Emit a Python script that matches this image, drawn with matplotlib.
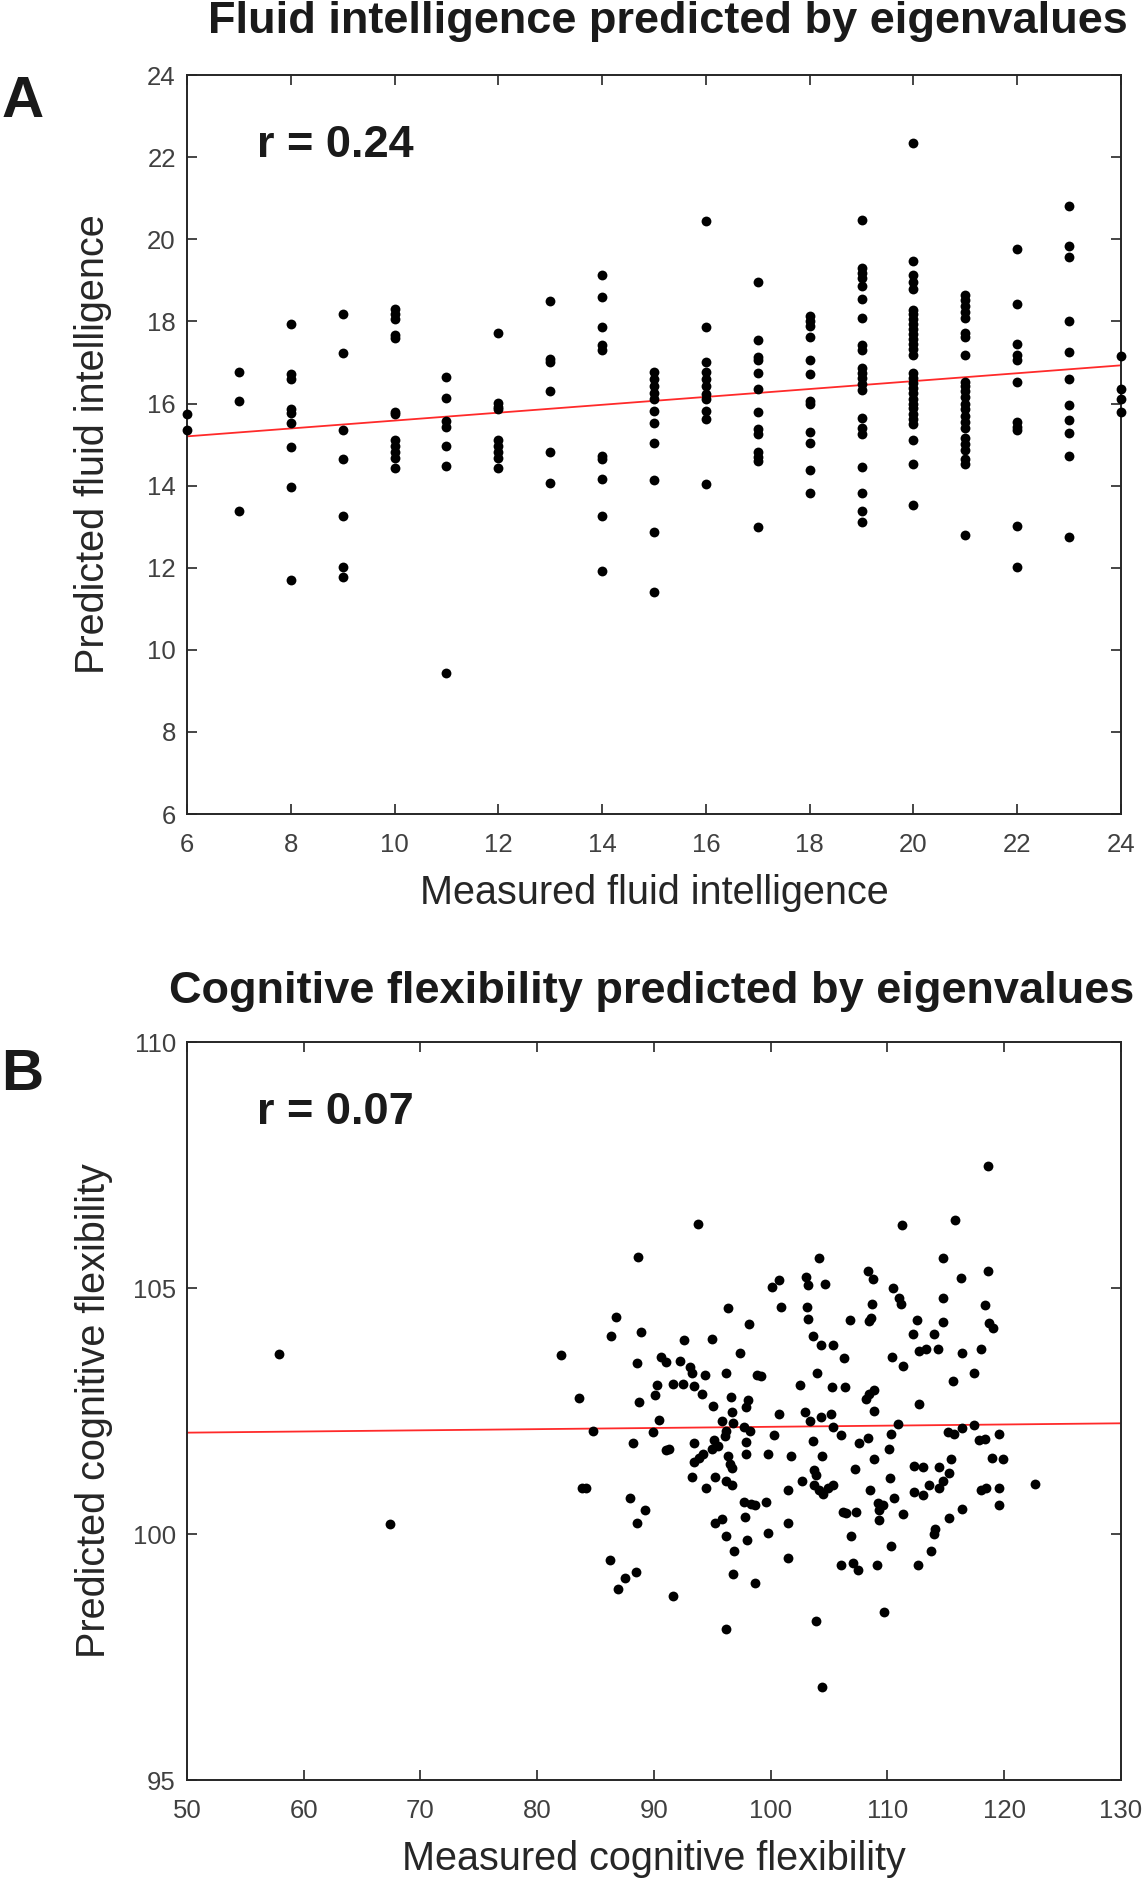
import numpy as np
import matplotlib
matplotlib.use('Agg')
import matplotlib.pyplot as plt

plt.rcParams['font.family'] = ['Liberation Sans', 'DejaVu Sans']

# ---- panel A : fluid intelligence (measured level -> predicted values)
fi_levels = [6, 7, 8, 9, 10, 11, 12, 13, 14, 15, 16, 17, 18, 19, 20, 21, 22, 23, 24]
fi_pred = [
    [15.74, 15.35],
    [16.77, 16.07, 13.39],
    [17.93, 16.71, 16.59, 15.86, 15.76, 15.53, 14.93, 13.97, 11.69],
    [18.17, 17.23, 15.35, 14.64, 13.25, 12.03, 11.77],
    [18.30, 18.17, 18.05, 17.66, 17.60, 15.80, 15.74, 15.11, 14.96, 14.81, 14.67, 14.43],
    [16.64, 16.13, 15.58, 15.44, 14.96, 14.48, 9.44],
    [17.71, 16.02, 15.92, 15.86, 15.11, 14.96, 14.81, 14.67, 14.43],
    [18.50, 17.09, 17.02, 16.30, 14.81, 14.07],
    [19.14, 18.59, 17.86, 17.42, 17.30, 14.73, 14.64, 14.16, 13.27, 11.92],
    [16.77, 16.59, 16.42, 16.26, 16.10, 15.82, 15.53, 15.04, 14.13, 12.86, 11.41],
    [20.44, 17.86, 17.01, 16.77, 16.59, 16.42, 16.24, 16.12, 15.82, 15.62, 14.03],
    [18.95, 17.54, 17.13, 17.07, 16.74, 16.36, 15.80, 15.38, 15.26, 14.81, 14.70, 14.60, 13.00],
    [18.14, 18.02, 17.90, 17.63, 17.07, 16.71, 16.06, 16.00, 15.31, 15.05, 14.37, 13.83],
    [20.48, 19.29, 19.17, 19.05, 18.87, 18.55, 18.08, 17.42, 17.30, 16.87, 16.75, 16.63,
     16.47, 16.33, 15.64, 15.41, 15.26, 14.46, 13.83, 13.39, 13.12],
    [22.35, 19.46, 19.14, 18.97, 18.79, 18.29, 18.17, 18.05, 17.93, 17.81, 17.70, 17.58,
     17.46, 17.34, 17.19, 16.74, 16.62, 16.50, 16.38, 16.26, 16.12, 16.00, 15.88, 15.74,
     15.62, 15.50, 15.11, 14.52, 13.54],
    [18.65, 18.51, 18.37, 18.22, 18.08, 17.72, 17.63, 17.19, 16.53, 16.42, 16.30, 16.15,
     16.00, 15.86, 15.70, 15.56, 15.41, 15.17, 15.02, 14.87, 14.66, 14.52, 12.80],
    [19.76, 18.42, 17.45, 17.19, 17.07, 16.52, 15.55, 15.43, 15.35, 13.01, 12.03],
    [20.82, 19.83, 19.56, 18.02, 17.25, 16.59, 15.96, 15.61, 15.29, 14.72, 12.74],
    [17.15, 16.36, 16.12, 15.79],
]
fi_fit_x = [6, 24]
fi_fit_y = [15.20, 16.93]

# ---- panel B : cognitive flexibility
cf_measured = [
    57.85, 67.35,
    93.76, 88.62, 104.17, 100.12, 100.69, 103.03, 103.20, 104.69, 96.38, 100.89, 103.09, 103.17,
    86.76, 86.28, 88.85, 98.18, 92.61, 94.98, 103.60, 104.32, 82.00, 88.53, 90.62, 90.99,
    92.19, 93.10, 93.27, 94.36, 96.18, 97.41, 98.81, 99.18, 103.94, 102.55, 90.25, 90.05,
    91.62, 92.47, 93.39, 94.13, 96.61, 98.04, 97.89, 83.57, 88.70, 95.04, 96.70, 100.75,
    102.97, 103.37, 104.32, 90.42, 95.84, 96.18, 96.75, 84.77, 89.90, 97.75, 98.24, 100.32,
    88.19, 95.18, 95.47, 96.10, 94.98, 93.39, 97.89, 90.99, 91.33, 96.32, 97.89, 99.75,
    101.75, 103.66, 104.40, 93.39, 93.84, 94.18, 96.47, 96.67, 103.74, 103.89, 83.85, 84.20,
    93.27, 95.24, 96.18, 96.70, 94.47, 101.46, 102.66, 103.74, 104.17, 104.46, 104.89, 87.91,
    89.22, 88.56, 97.75, 98.32, 98.69, 99.61, 95.24, 95.84, 97.84, 101.46, 96.18, 97.95,
    99.78, 96.84, 101.46, 86.25, 88.48, 87.56, 86.96, 96.75, 98.64, 91.62, 96.18, 103.89,
    104.40,
    118.59, 115.82, 111.22, 114.79, 108.34, 108.74, 116.30, 118.59, 110.45, 111.02, 111.17,
    114.79, 108.68, 118.39, 106.80, 108.40, 108.60, 112.51, 114.73, 112.16, 113.96, 118.67,
    119.01, 105.37, 112.74, 113.31, 114.36, 106.29, 110.40, 116.39, 118.02, 111.37, 117.39,
    115.65, 105.26, 106.40, 108.17, 108.45, 108.88, 108.88, 112.68, 105.17, 110.88, 105.37,
    106.03, 110.31, 115.16, 115.73, 116.39, 117.39, 117.87, 118.39, 119.59, 107.60, 108.31,
    110.11, 108.83, 107.23, 115.45, 118.93, 119.87, 112.31, 113.02, 114.45, 115.30, 110.22,
    105.32, 113.53, 114.45, 114.73, 122.64, 108.54, 112.31, 113.02, 118.02, 118.44, 119.59,
    109.17, 109.60, 109.31, 109.31, 110.60, 106.17, 106.46, 107.31, 111.37, 115.25, 116.39,
    119.59, 114.11, 113.96, 106.89, 110.31, 113.73, 106.03, 107.08, 107.46, 109.11, 112.65,
    109.74,
]
cf_predicted = [
    103.66, 100.21,
    106.30, 105.64, 105.60, 105.02, 105.17, 105.23, 105.06, 105.09, 104.60, 104.62, 104.62, 104.36,
    104.41, 104.02, 104.11, 104.26, 103.95, 103.97, 104.02, 103.85, 103.63, 103.48, 103.60, 103.49,
    103.51, 103.40, 103.27, 103.23, 103.28, 103.68, 103.24, 103.21, 103.27, 103.02, 103.02, 102.83,
    103.05, 103.05, 103.00, 102.84, 102.78, 102.72, 102.59, 102.76, 102.69, 102.60, 102.47, 102.43,
    102.47, 102.29, 102.38, 102.31, 102.29, 102.10, 102.25, 102.10, 102.07, 102.17, 102.10, 102.02,
    101.85, 101.91, 101.79, 102.00, 101.72, 101.85, 101.86, 101.70, 101.73, 101.58, 101.62, 101.63,
    101.58, 101.89, 101.59, 101.46, 101.55, 101.62, 101.42, 101.34, 101.30, 101.19, 100.93, 100.93,
    101.15, 101.15, 101.08, 100.99, 100.93, 100.89, 101.08, 101.00, 100.89, 100.81, 100.93, 100.74,
    100.48, 100.23, 100.66, 100.61, 100.59, 100.66, 100.23, 100.30, 100.34, 100.23, 99.95, 99.87,
    100.02, 99.66, 99.52, 99.48, 99.22, 99.10, 98.89, 99.19, 99.00, 98.75, 98.06, 98.24,
    96.89,
    107.47, 106.38, 106.28, 105.61, 105.34, 105.19, 105.20, 105.34, 105.00, 104.79, 104.68,
    104.80, 104.68, 104.65, 104.34, 104.32, 104.40, 104.34, 104.30, 104.07, 104.07, 104.28,
    104.19, 103.85, 103.72, 103.76, 103.76, 103.58, 103.59, 103.67, 103.77, 103.41, 103.27,
    103.11, 102.99, 102.98, 102.74, 102.85, 102.93, 102.49, 102.65, 102.44, 102.23, 102.17,
    102.01, 102.04, 102.07, 102.04, 102.15, 102.21, 101.91, 101.93, 102.04, 101.85, 101.96,
    101.72, 101.53, 101.32, 101.53, 101.55, 101.52, 101.38, 101.37, 101.37, 101.23, 101.14,
    101.00, 101.00, 100.94, 101.08, 101.02, 100.89, 100.85, 100.79, 100.90, 100.93, 100.94,
    100.63, 100.59, 100.48, 100.29, 100.74, 100.45, 100.42, 100.44, 100.40, 100.32, 100.51,
    100.59, 100.11, 100.01, 99.95, 99.76, 99.66, 99.36, 99.42, 99.27, 99.36, 99.38,
    98.42,
]
cf_fit_x = [50, 130]
cf_fit_y = [102.06, 102.25]

fi_measured = np.concatenate([[lev] * len(v) for lev, v in zip(fi_levels, fi_pred)])
fi_predicted = np.concatenate(fi_pred)

###############################################################################
fig = plt.figure(figsize=(11.45, 18.87), dpi=100)
axcol = '#262626'
ticklab = '#404040'


def style_axes(ax):
    for s in ax.spines.values():
        s.set_color(axcol)
        s.set_linewidth(1.4)
    ax.tick_params(direction='in', length=7.5, width=1.2, color=axcol,
                   top=True, right=True, labelsize=18.5, labelcolor=ticklab)
    ax.tick_params(axis='x', pad=14)
    ax.tick_params(axis='y', pad=8)


axA = fig.add_axes([0.1633, 0.5686, 0.8157, 0.3916])
axA.scatter(fi_measured, fi_predicted, s=50, color='black', linewidths=0, clip_on=False, zorder=3)
axA.plot(fi_fit_x, fi_fit_y, color='#ff2a2a', lw=1.3, zorder=2)
axA.set_xlim(6, 24)
axA.set_ylim(6, 24)
axA.set_xticks(np.arange(6, 25, 2))
axA.set_yticks(np.arange(6, 25, 2))
style_axes(axA)
axA.set_xlabel('Measured fluid intelligence', fontsize=28.5, color=axcol, labelpad=12)
axA.set_ylabel('Predicted fluid intelligence', fontsize=28.5, color=axcol, labelpad=25)
axA.text(0.075, 0.889, 'r = 0.24', transform=axA.transAxes, fontsize=32.5,
         fontweight='bold', color='#1a1a1a', ha='left', va='baseline')

axB = fig.add_axes([0.1633, 0.0567, 0.8157, 0.3911])
axB.scatter(cf_measured, cf_predicted, s=50, color='black', linewidths=0, clip_on=False, zorder=3)
axB.plot(cf_fit_x, cf_fit_y, color='#ff2a2a', lw=1.3, zorder=2)
axB.set_xlim(50, 130)
axB.set_ylim(95, 110)
axB.set_xticks(np.arange(50, 131, 10))
axB.set_yticks(np.arange(95, 111, 5))
style_axes(axB)
axB.set_xlabel('Measured cognitive flexibility', fontsize=28.5, color=axcol, labelpad=12)
axB.set_ylabel('Predicted cognitive flexibility', fontsize=28.5, color=axcol, labelpad=14)
axB.text(0.075, 0.889, 'r = 0.07', transform=axB.transAxes, fontsize=32.5,
         fontweight='bold', color='#1a1a1a', ha='left', va='baseline')

fig.text(0.5834, 0.9825, 'Fluid intelligence predicted by eigenvalues', fontsize=32.5,
         fontweight='bold', color='#1a1a1a', ha='center', va='baseline')
fig.text(0.5694, 0.4685, 'Cognitive flexibility predicted by eigenvalues', fontsize=32.5,
         fontweight='bold', color='#1a1a1a', ha='center', va='baseline')
fig.text(0.001, 0.938, 'A', fontsize=42, fontweight='bold', color='#1a1a1a', ha='left', va='baseline')
fig.text(0.001, 0.4224, 'B', fontsize=42, fontweight='bold', color='#1a1a1a', ha='left', va='baseline')

fig.savefig('out.png', dpi=100, facecolor='white')
